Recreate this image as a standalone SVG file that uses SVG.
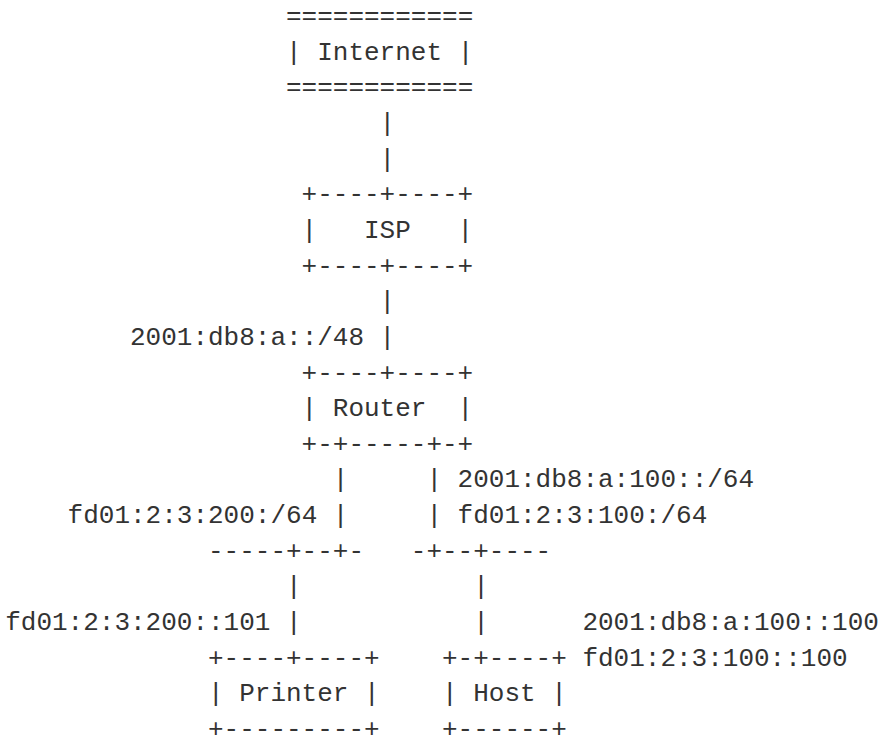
<svg xmlns="http://www.w3.org/2000/svg" width="880" height="736" viewBox="0 0 880 736">
<style>
text{font-family:"Liberation Mono","DejaVu Sans Mono",monospace;font-size:26px;fill:#333;white-space:pre}
</style>
<rect width="880" height="736" fill="#fff"/>
<g id="internet">
<text x="286" y="24">============</text>
<text x="286" y="59.65" xml:space="preserve">| Internet |</text>
<text x="286" y="95.3">============</text>
</g>
<g id="isp">
<text x="301.6" y="202.25">+----+----+</text>
<text x="301.6" y="237.9" xml:space="preserve">|   ISP   |</text>
<text x="301.6" y="273.55">+----+----+</text>
</g>
<g id="router">
<text x="301.6" y="380.5">+----+----+</text>
<text x="301.6" y="416.15" xml:space="preserve">| Router  |</text>
<text x="301.6" y="451.8">+-+-----+-+</text>
</g>
<g id="printer">
<text x="208" y="665.7">+----+----+</text>
<text x="208" y="701.35" xml:space="preserve">| Printer |</text>
<text x="208" y="737">+---------+</text>
</g>
<g id="host">
<text x="442" y="665.7">+-+----+</text>
<text x="442" y="701.35" xml:space="preserve">| Host |</text>
<text x="442" y="737">+------+</text>
</g>
<g id="connectors">
<text x="379.6" y="130.95">|</text>
<text x="379.6" y="166.6">|</text>
<text x="379.6" y="309.2">|</text>
<text x="379.6" y="344.85">|</text>
<text x="332.8" y="487.45">|</text>
<text x="426.4" y="487.45">|</text>
<text x="332.8" y="523.1">|</text>
<text x="426.4" y="523.1">|</text>
<text x="208" y="558.75">-----+--+-</text>
<text x="410.8" y="558.75">-+--+----</text>
<text x="286" y="594.4">|</text>
<text x="473.2" y="594.4">|</text>
<text x="286" y="630.05">|</text>
<text x="473.2" y="630.05">|</text>
</g>
<g id="labels">
<text x="130" y="344.85">2001:db8:a::/48</text>
<text x="457.6" y="487.45">2001:db8:a:100::/64</text>
<text x="67.6" y="523.1">fd01:2:3:200:/64</text>
<text x="457.6" y="523.1">fd01:2:3:100:/64</text>
<text x="5.2" y="630.05">fd01:2:3:200::101</text>
<text x="582.4" y="630.05">2001:db8:a:100::100</text>
<text x="582.4" y="665.7">fd01:2:3:100::100</text>
</g>
</svg>
